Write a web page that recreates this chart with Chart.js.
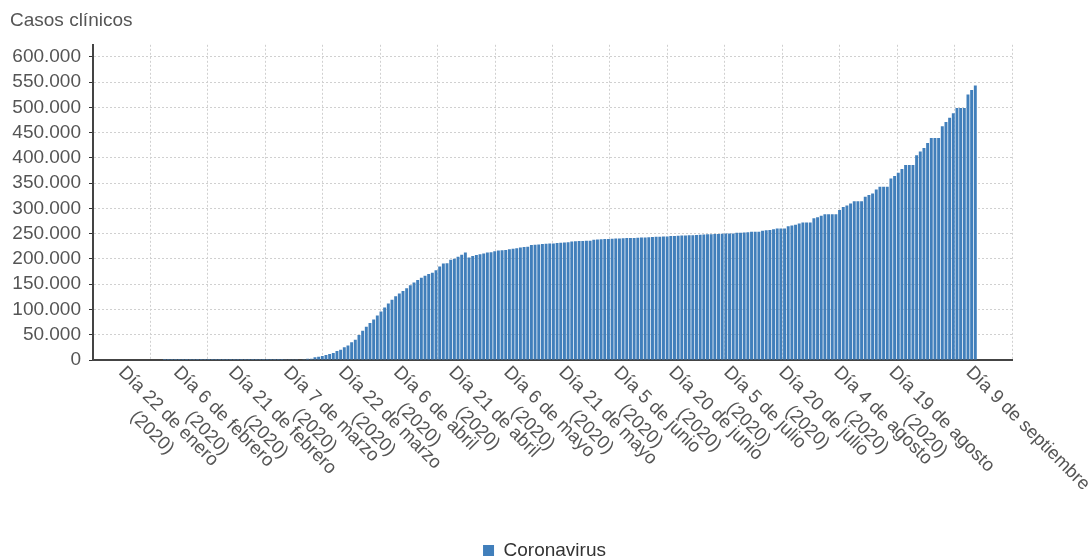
<!DOCTYPE html>
<html lang="es">
<head>
<meta charset="utf-8">
<title>Casos clínicos</title>
<script src="https://cdn.jsdelivr.net/npm/chart.js@4.4.1/dist/chart.umd.min.js"></script>
<style>
  html, body { margin: 0; padding: 0; background: #fff; }
  #wrap { width: 1089px; height: 558px; position: relative; }
</style>
</head>
<body>
<div id="wrap"><canvas id="casosChart"></canvas></div>
<script>
// Casos acumulados, un valor por día desde el 22 de enero de 2020
const casosEnero = [0, 0, 0, 0, 0, 0, 0, 0, 0, 0];
const casosFebrero = [1, 1, 1, 1, 1, 1, 1, 1, 2, 2, 2, 2, 2, 2, 2, 2, 2, 2, 2, 2, 2, 2, 2, 2, 6, 13, 15, 32, 45];
const casosMarzo = [84, 120, 165, 222, 259, 400, 500, 673, 1073, 1695, 2277, 2277, 5232, 6391, 7798, 9942,
  11748, 13910, 17963, 20410, 25374, 28603, 35136, 39885, 49515, 57786, 65719, 73235, 80110, 87956, 95923];
const casosAbril = [104118, 112065, 119199, 126168, 131646, 136675, 141942, 148220, 153222, 158273, 163027,
  166831, 170099, 172541, 177644, 184948, 190839, 191726, 198674, 200210, 204178, 208389, 213024, 202990,
  205905, 207634, 209465, 210773, 212917, 213435];
const casosMayo = [215216, 216582, 217466, 218011, 219329, 220325, 221447, 222857, 223578, 224350, 227436,
  228030, 228691, 229540, 230183, 230698, 230698, 231606, 232037, 232555, 233037, 234824, 235290, 235772,
  235400, 236259, 236259, 237906, 238564, 239228, 239479];
const casosJunio = [239638, 239932, 240326, 240660, 240978, 241310, 241550, 241717, 241966, 242280, 242707,
  243209, 243605, 243928, 244109, 244328, 244683, 245268, 245575, 245938, 246272, 246504, 246752, 247086,
  247486, 247905, 248469, 248770, 248970, 249271];
const casosJulio = [249659, 250103, 250545, 250545, 250545, 251789, 252130, 252513, 253056, 253908, 253908,
  253908, 255953, 256619, 257494, 258855, 260255, 260255, 260255, 264836, 266194, 267551, 270166, 272421,
  272421, 272421, 280610, 282641, 285430, 288522, 288522];
const casosAgosto = [288522, 288522, 297054, 302814, 305767, 309855, 314362, 314362, 314362, 322980, 326612,
  329784, 337334, 342813, 342813, 342813, 359082, 364196, 370867, 377906, 386054, 386054, 386054, 405436,
  412553, 419849, 429507, 439286, 439286, 439286, 462858];
const casosSeptiembre = [470973, 479554, 488513, 498989, 498989, 498989, 525549, 534513, 543379];

const casos = [].concat(casosEnero, casosFebrero, casosMarzo, casosAbril, casosMayo,
  casosJunio, casosJulio, casosAgosto, casosSeptiembre);

// Etiquetas del eje X (día desde el 22 de enero)
const diasEtiqueta = [0, 15, 30, 45, 60, 75, 90, 105, 120, 135, 150, 165, 180, 195, 210, 231];
const textosEtiqueta = [
  ["Día 22 de enero", "(2020)"], ["Día 6 de febrero", "(2020)"], ["Día 21 de febrero", "(2020)"],
  ["Día 7 de marzo", "(2020)"], ["Día 22 de marzo", "(2020)"], ["Día 6 de abril", "(2020)"],
  ["Día 21 de abril", "(2020)"], ["Día 6 de mayo", "(2020)"], ["Día 21 de mayo", "(2020)"],
  ["Día 5 de junio", "(2020)"], ["Día 20 de junio", "(2020)"], ["Día 5 de julio", "(2020)"],
  ["Día 20 de julio", "(2020)"], ["Día 4 de agosto", "(2020)"], ["Día 19 de agosto", "(2020)"],
  ["Día 9 de septiembre"]
];
const ticksY = [0, 50000, 100000, 150000, 200000, 250000, 300000, 350000, 400000, 450000, 500000, 550000, 600000];

const FONT = "Arial, 'Liberation Sans', sans-serif";

function miles(v) {
  return String(v).replace(/\B(?=(\d{3})+(?!\d))/g, ".");
}

// Etiquetas giradas 45º hacia abajo, empezando en la posición del día
const etiquetasX = {
  id: "etiquetasX",
  afterLayout(chart) {
    // leyenda centrada en todo el lienzo
    chart.legend.left = 0;
    chart.legend.right = chart.width;
  },
  afterDraw(chart) {
    const ctx = chart.ctx;
    const xs = chart.scales.x;
    const y0 = chart.chartArea.bottom + 3;
    ctx.save();
    ctx.font = "18.5px " + FONT;
    ctx.fillStyle = "#555";
    ctx.textBaseline = "top";
    ctx.textAlign = "center";
    diasEtiqueta.forEach((d, i) => {
      const lines = textosEtiqueta[i];
      const w = Math.max(...lines.map(l => ctx.measureText(l).width));
      ctx.save();
      ctx.translate(xs.getPixelForValue(d), y0);
      ctx.rotate(Math.PI / 4);
      lines.forEach((l, j) => ctx.fillText(l, w / 2, j * 23));
      ctx.restore();
    });
    ctx.restore();
  }
};

const ctx = document.getElementById("casosChart").getContext("2d");
new Chart(ctx, {
  type: "bar",
  data: {
    datasets: [{
      label: "Coronavirus",
      data: casos.map((v, i) => ({ x: i, y: v })),
      backgroundColor: "#417fbb",
      borderWidth: 0,
      barPercentage: 0.8,
      categoryPercentage: 1
    }]
  },
  options: {
    responsive: true,
    maintainAspectRatio: false,
    animation: false,
    layout: { padding: { left: 10, right: 77, top: 0, bottom: -12 } },
    plugins: {
      title: {
        display: true,
        text: "Casos clínicos",
        align: "start",
        color: "#555",
        font: { family: FONT, size: 19, weight: "normal" },
        padding: { top: 9, bottom: 13 }
      },
      legend: {
        position: "bottom",
        labels: {
          color: "#333",
          font: { family: FONT, size: 19 },
          boxWidth: 11,
          boxHeight: 11,
          padding: 6
        }
      },
      tooltip: { enabled: false }
    },
    scales: {
      x: {
        type: "linear",
        offset: false,
        min: -9.5,
        max: 241,
        afterBuildTicks: s => {
          const paso = (s.max - s.min) / 16;
          s.ticks = Array.from({ length: 17 }, (_, k) => ({ value: s.min + k * paso }));
        },
        afterFit: s => { s.height = 175; },
        ticks: { display: false },
        grid: { color: "#d0d0d0", drawTicks: false, offset: false },
        border: { color: "#444", width: 2, dash: [2, 2] }
      },
      y: {
        min: 0,
        max: 624000,
        afterBuildTicks: s => { s.ticks = ticksY.map(v => ({ value: v })); },
        afterFit: s => { s.width = 83; },
        ticks: {
          color: "#555",
          font: { family: FONT, size: 19 },
          padding: 8,
          callback: v => miles(v)
        },
        grid: {
          color: "#d0d0d0",
          tickColor: "#333",
          tickLength: 4,
          tickBorderDash: []
        },
        border: { color: "#444", width: 2, dash: [2, 2] }
      }
    }
  },
  plugins: [etiquetasX]
});
</script>
</body>
</html>
